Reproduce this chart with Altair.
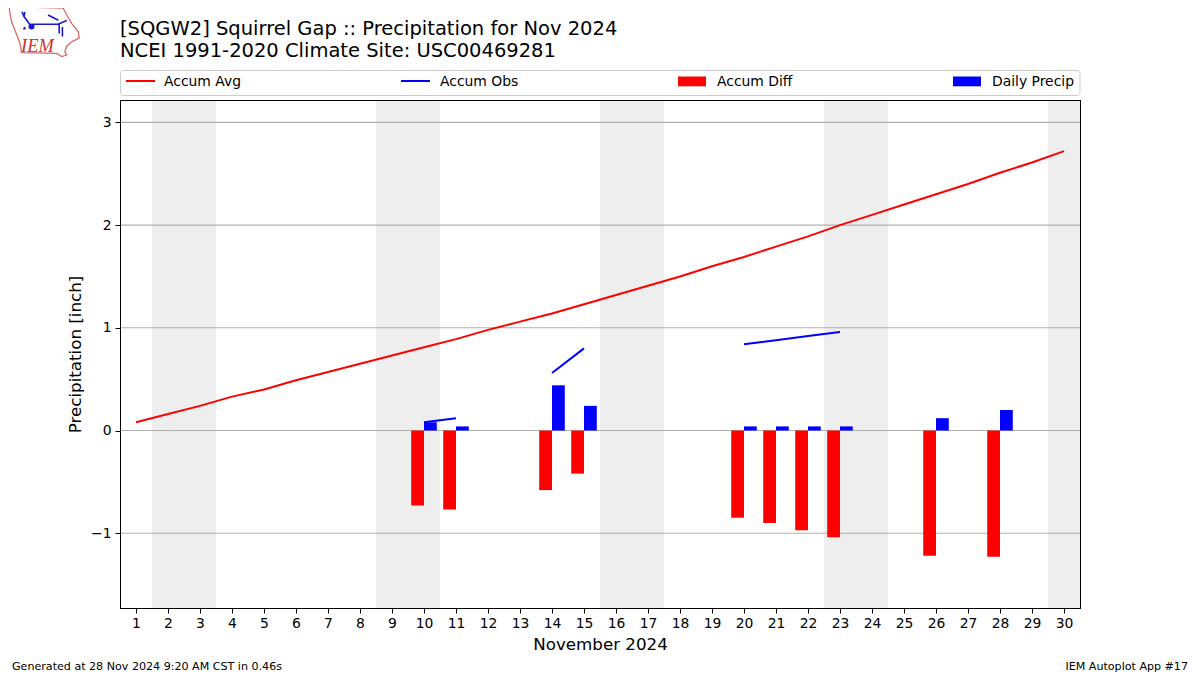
import altair as alt
import pandas as pd

FONT = "DejaVu Sans"
days = list(range(1, 31))
accum_avg = [0.08, 0.16, 0.24, 0.33, 0.40, 0.49, 0.57, 0.65, 0.73, 0.81,
             0.89, 0.98, 1.06, 1.14, 1.23, 1.32, 1.41, 1.50, 1.60, 1.69,
             1.79, 1.89, 2.00, 2.10, 2.20, 2.30, 2.40, 2.51, 2.61, 2.72]
precip_days = [10, 11, 14, 15, 20, 21, 22, 23, 26, 28]
daily_precip = [0.08, 0.04, 0.44, 0.24, 0.04, 0.04, 0.04, 0.04, 0.12, 0.20]
accum_diff = [-0.73, -0.77, -0.58, -0.42, -0.85, -0.90, -0.97, -1.04, -1.22, -1.23]
obs_days = [10, 11, 14, 15, 20, 21, 22, 23]
obs_seg = [1, 1, 2, 2, 3, 3, 3, 3]
accum_obs = [0.08, 0.12, 0.56, 0.80, 0.84, 0.88, 0.92, 0.96]
band_start = [1.5, 8.5, 15.5, 22.5, 29.5]
band_end = [3.5, 10.5, 17.5, 24.5, 30.5]
y_ticks = [-1, 0, 1, 2, 3]
bar_w = 0.4

W, H = 960, 508
x_scale = alt.Scale(domain=[0.5, 30.5], nice=False, zero=False)
y_scale = alt.Scale(domain=[-1.728, 3.218], nice=False, zero=False)
x_axis = alt.Axis(
    values=days, format="d", grid=False, title="November 2024",
    labelFont=FONT, labelFontSize=13.9, labelColor="black", labelPadding=3,
    tickColor="black", tickSize=5, tickWidth=1, domainColor="black",
    titleFont=FONT, titleFontSize=16.7, titleFontWeight="normal",
    titleColor="black", titlePadding=7, labelFlush=False, labelOverlap=False)
y_axis = alt.Axis(
    values=y_ticks, format="d", grid=False, title="Precipitation [inch]",
    labelFont=FONT, labelFontSize=13.9, labelColor="black", labelPadding=4,
    tickColor="black", tickSize=5, tickWidth=1, domainColor="black",
    titleFont=FONT, titleFontSize=16.7, titleFontWeight="normal",
    titleColor="black", titlePadding=6)

bands = alt.Chart(pd.DataFrame({"a": band_start, "b": band_end})).mark_rect(
    color="#eeeeee", clip=True
).encode(
    x=alt.X("a:Q", scale=x_scale, axis=x_axis),
    x2="b:Q",
    y=alt.value(0), y2=alt.value(H),
)
grid = alt.Chart(pd.DataFrame({"y": y_ticks})).mark_rule(color="#b0b0b0", strokeWidth=1.1).encode(
    y=alt.Y("y:Q", scale=y_scale, axis=y_axis),
    x=alt.value(0), x2=alt.value(W),
)
bars_df = pd.DataFrame({"d": precip_days, "p": daily_precip, "r": accum_diff})
bars_df["l"] = bars_df["d"] - bar_w
bars_df["h"] = bars_df["d"] + bar_w
bars_df["z"] = 0
red = alt.Chart(bars_df).mark_rect(color="#ff0000").encode(
    x=alt.X("l:Q", scale=x_scale, axis=x_axis), x2="d:Q",
    y=alt.Y("z:Q", scale=y_scale, axis=y_axis), y2="r:Q")
blue = alt.Chart(bars_df).mark_rect(color="#0000ff").encode(
    x=alt.X("d:Q", scale=x_scale, axis=x_axis), x2="h:Q",
    y=alt.Y("z:Q", scale=y_scale, axis=y_axis), y2="p:Q")
avg = alt.Chart(pd.DataFrame({"d": days, "v": accum_avg})).mark_line(color="#ff0000", strokeWidth=2).encode(
    x=alt.X("d:Q", scale=x_scale, axis=x_axis), y=alt.Y("v:Q", scale=y_scale, axis=y_axis))
obs = alt.Chart(pd.DataFrame({"d": obs_days, "v": accum_obs, "s": obs_seg})).mark_line(color="#0000ff", strokeWidth=2).encode(
    x=alt.X("d:Q", scale=x_scale, axis=x_axis), y=alt.Y("v:Q", scale=y_scale, axis=y_axis), detail="s:N")


def px(v):
    return v - 120


def py(v):
    return v - 100


def label(text, x, y, size, align="left", color="black", font=FONT, style="normal", baseline="middle"):
    return alt.Chart(pd.DataFrame({"t": [text]})).mark_text(
        align=align, baseline=baseline, font=font, fontSize=size, color=color, fontStyle=style
    ).encode(text="t:N", x=alt.value(px(x)), y=alt.value(py(y)))


one = pd.DataFrame({"i": [0]})


def line_key(x0, x1, y, color):
    return alt.Chart(one).mark_rule(color=color, strokeWidth=2).encode(
        x=alt.value(px(x0)), x2=alt.value(px(x1)), y=alt.value(py(y)))


def rect_key(x0, x1, y0, y1, color):
    return alt.Chart(one).mark_rect(color=color).encode(
        x=alt.value(px(x0)), x2=alt.value(px(x1)), y=alt.value(py(y0)), y2=alt.value(py(y1)))


frame = alt.Chart(one).mark_rect(fillOpacity=0, stroke="black", strokeWidth=1).encode(
    x=alt.value(0.5), x2=alt.value(W + 0.5), y=alt.value(0.5), y2=alt.value(H + 0.5))
legend_box = alt.Chart(one).mark_rect(
    fill="white", stroke="#cccccc", strokeWidth=1, cornerRadius=3
).encode(x=alt.value(px(120.5)), x2=alt.value(px(1080)), y=alt.value(py(70.5)), y2=alt.value(py(95.5)))

iowa = ("M-.87,-.61 L.48,-.57 L.57,-.40 L.69,-.19 L.86,.02 L.88,.18 L.69,.27 L.57,.38 L.52,.52 "
        "L.57,.60 L.44,.64 L.32,.56 L-.56,.54 L-.60,.31 L-.68,.10 L-.81,-.23 L-.85,-.44 Z")
rivers = ("M-.55,-.48 L-.50,-.36 L-.33,-.13 M-.48,-.48 L-.50,-.36 M-.28,-.17 L.35,-.17 L.57,-.26 "
          "M.10,-.40 L.36,-.27 M.38,-.17 L.38,.06 M.46,-.10 L.46,.14 M-.52,-.06 L-.47,-.06 M-.48,-.10 L-.48,-.04")
logo_x, logo_y, logo_size = 44, 31, 6400
logo_outline = alt.Chart(one).mark_point(
    shape=iowa, size=logo_size, filled=False, stroke="#d96a6a", strokeWidth=1.3, opacity=1
).encode(x=alt.value(px(logo_x)), y=alt.value(py(logo_y)))
logo_rivers = alt.Chart(one).mark_point(
    shape=rivers, size=logo_size, filled=False, stroke="#1a1ad0", strokeWidth=1.6, opacity=1
).encode(x=alt.value(px(logo_x)), y=alt.value(py(logo_y)))
logo_dot = alt.Chart(one).mark_point(
    shape="circle", size=36, filled=True, color="#1a1ad0", opacity=1
).encode(x=alt.value(px(31.5)), y=alt.value(py(26.5)))

layers = [
    bands, grid, red, blue, avg, obs, frame,
    legend_box,
    line_key(126, 155, 81, "#ff0000"), label("Accum Avg", 164, 81.5, 13.9),
    line_key(401, 430, 81, "#0000ff"), label("Accum Obs", 440, 81.5, 13.9),
    rect_key(678, 706, 76.5, 86.3, "#ff0000"), label("Accum Diff", 717, 81.5, 13.9),
    rect_key(953, 981, 76.5, 86.3, "#0000ff"), label("Daily Precip", 992, 81.5, 13.9),
    label("[SQGW2] Squirrel Gap :: Precipitation for Nov 2024", 120, 29, 19.5),
    label("NCEI 1991-2020 Climate Site: USC00469281", 120, 51, 19.5),
    label("Generated at 28 Nov 2024 9:20 AM CST in 0.46s", 12, 666.5, 11.1),
    label("IEM Autoplot App #17", 1188, 666.5, 11.1, align="right"),
    logo_outline, logo_rivers, logo_dot,
    label("IEM", 21, 52, 18.5, color="#d03030", font="Liberation Serif", style="italic", baseline="alphabetic"),
]

chart = alt.layer(*layers).resolve_scale(x="shared", y="shared").properties(
    width=W, height=H,
    padding={"left": 112, "top": 92, "right": 110, "bottom": 64},
    autosize=alt.AutoSizeParams(type="none"),
    background="white",
).configure_view(stroke="black", strokeWidth=1)

chart.save("out.html", embed_options={"renderer": "svg", "actions": False})
